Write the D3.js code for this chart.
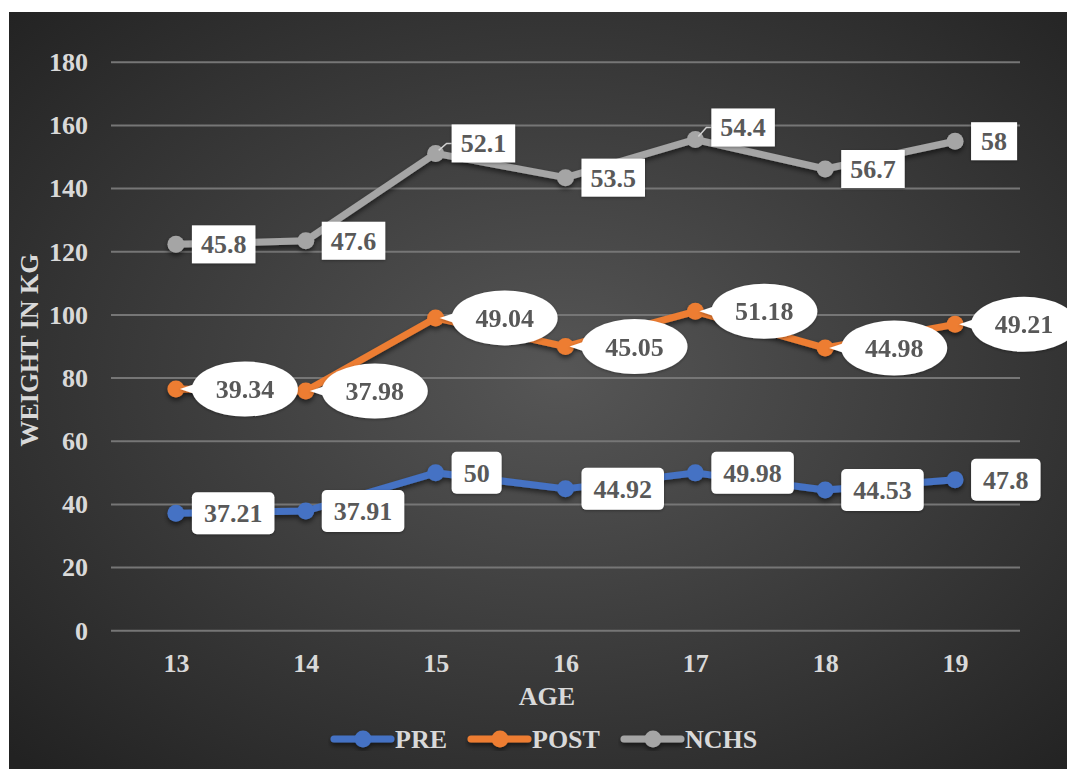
<!DOCTYPE html>
<html>
<head>
<meta charset="utf-8">
<script src="https://cdn.jsdelivr.net/npm/d3@7"></script>
<style>
  html, body { margin: 0; padding: 0; background: #ffffff; }
  svg { display: block; }
</style>
</head>
<body>
<svg id="chart" width="1067" height="769"></svg>
<script>
// Age groups on the x axis
const ages = [13, 14, 15, 16, 17, 18, 19];

// Mean weight (kg) per age group for each series
const preValues  = [37.21, 37.91, 50, 44.92, 49.98, 44.53, 47.8];
const postValues = [39.34, 37.98, 49.04, 45.05, 51.18, 44.98, 49.21];
const nchsValues = [45.8, 47.6, 52.1, 53.5, 54.4, 56.7, 58];

// Axis ticks
const yTickValues = [0, 20, 40, 60, 80, 100, 120, 140, 160, 180];

const seriesNames = ["PRE", "POST", "NCHS"];
const seriesColors = { PRE: "#4472C4", POST: "#ED7D31", NCHS: "#A5A5A5" };
const labelShape = { PRE: "roundrect", POST: "ellipse", NCHS: "rect" };
// labels lifted above the line, joined to their point by a leader line
const labelLift = { NCHS: { 15: 10, 17: 12 } };

const FAMILY = "'Liberation Serif', 'Times New Roman', serif";
const FONT = 26;
const W = 1067, H = 769;

const svg = d3.select("#chart");

// shared text styling
function styleText(sel, color) {
  return sel.style("font-family", FAMILY).style("font-weight", "bold")
    .style("font-size", FONT + "px").attr("fill", color);
}

// ---- background ----
const defs = svg.append("defs");
const bg = defs.append("radialGradient").attr("id", "bgGrad")
  .attr("cx", "52%").attr("cy", "48%").attr("r", "72%");
bg.append("stop").attr("offset", "0%").attr("stop-color", "#565656");
bg.append("stop").attr("offset", "100%").attr("stop-color", "#222222");

const shadow = defs.append("filter").attr("id", "shadow")
  .attr("x", "-10%").attr("y", "-10%").attr("width", "120%").attr("height", "130%");
shadow.append("feDropShadow").attr("dx", 0).attr("dy", 3).attr("stdDeviation", 2.5)
  .attr("flood-color", "#000").attr("flood-opacity", 0.55);

const labelShadow = defs.append("filter").attr("id", "labelShadow")
  .attr("x", "-20%").attr("y", "-20%").attr("width", "140%").attr("height", "150%");
labelShadow.append("feDropShadow").attr("dx", 0).attr("dy", 1).attr("stdDeviation", 1.5)
  .attr("flood-color", "#000").attr("flood-opacity", 0.35);

svg.append("rect").attr("x", 9).attr("y", 12).attr("width", W - 9).attr("height", H - 12)
  .attr("fill", "url(#bgGrad)");

// ---- scales ----
const x = d3.scalePoint().domain(ages).range([111, 1020]).padding(0.5);
const y = d3.scaleLinear().domain([0, 180]).range([630.7, 62.3]);

// ---- gridlines ----
svg.append("g").selectAll("line").data(yTickValues).join("line")
  .attr("x1", 111).attr("x2", 1020)
  .attr("y1", d => y(d)).attr("y2", d => y(d))
  .attr("stroke", "#767676").attr("stroke-width", 2);

// ---- axes ----
const yAxis = svg.append("g").attr("transform", "translate(111,0)")
  .call(d3.axisLeft(y).tickValues(yTickValues).tickSize(0).tickPadding(23));
const xAxis = svg.append("g").attr("transform", `translate(0,${y(0)})`)
  .call(d3.axisBottom(x).tickSize(0).tickPadding(23));
[yAxis, xAxis].forEach(g => {
  g.attr("font-family", null).attr("font-size", null);
  g.select(".domain").remove();
  styleText(g.selectAll("text"), "#d9d9d9");
});

// axis titles
styleText(svg.append("text"), "#d9d9d9")
  .attr("transform", "translate(38,350) rotate(-90)")
  .attr("text-anchor", "middle")
  .text("WEIGHT IN KG");
styleText(svg.append("text"), "#d9d9d9")
  .attr("x", 547).attr("y", 705)
  .attr("text-anchor", "middle")
  .text("AGE");

// ---- stacked lines ----
const table = ages.map((a, i) => ({ age: a, PRE: preValues[i], POST: postValues[i], NCHS: nchsValues[i] }));
const stacked = d3.stack().keys(seriesNames)(table);

const line = d3.line().x(d => x(d.data.age)).y(d => y(d[1]));

const seriesG = svg.append("g").selectAll("g").data(stacked).join("g")
  .attr("filter", "url(#shadow)");
seriesG.append("path")
  .attr("d", s => line(s))
  .attr("fill", "none")
  .attr("stroke", s => seriesColors[s.key])
  .attr("stroke-width", 7)
  .attr("stroke-linejoin", "round");
seriesG.selectAll("circle").data(s => s.map(d => ({ key: s.key, d }))).join("circle")
  .attr("cx", p => x(p.d.data.age)).attr("cy", p => y(p.d[1]))
  .attr("r", 8.5)
  .attr("fill", p => seriesColors[p.key]);

// ---- data labels ----
const fmt = v => String(v);
const labelsG = svg.append("g");
const measure = styleText(svg.append("text"), "#000").attr("visibility", "hidden");

stacked.forEach(s => {
  s.forEach(d => {
    const age = d.data.age;
    const value = d.data[s.key];
    const txt = fmt(value);
    measure.text(txt);
    const tw = measure.node().getComputedTextLength();
    const px = x(age), py = y(d[1]);
    const lift = (labelLift[s.key] && labelLift[s.key][age]) || 0;
    const shape = labelShape[s.key];
    const g = labelsG.append("g");
    let cx, cy = py - lift;

    if (shape === "ellipse") {
      const rx = 53, ry = 27.5;
      cx = px + 16 + rx;
      g.attr("filter", "url(#labelShadow)");
      // callout wedge from the ellipse to its point
      g.append("path")
        .attr("d", `M${px + 4},${py} L${cx - rx + 12},${cy - 8} L${cx - rx + 12},${cy + 8} Z`)
        .attr("fill", "#ffffff");
      g.append("ellipse").attr("cx", cx).attr("cy", cy).attr("rx", rx).attr("ry", ry)
        .attr("fill", "#ffffff");
    } else {
      const pad = shape === "rect" ? 9 : 12;
      const bw = Math.max(tw + pad * 2, 46);
      const bh = shape === "rect" ? 38 : 42;
      const left = px + 16;
      cx = left + bw / 2;
      if (lift) {
        g.append("polyline")
          .attr("points", `${px + 3},${py - 3} ${px + 11},${cy} ${left},${cy}`)
          .attr("fill", "none").attr("stroke", "#d0d0d0").attr("stroke-width", 1.5);
      }
      g.append("rect")
        .attr("x", left).attr("y", cy - bh / 2).attr("width", bw).attr("height", bh)
        .attr("rx", shape === "roundrect" ? 5 : 0)
        .attr("fill", "#ffffff")
        .attr("filter", "url(#labelShadow)");
    }
    styleText(g.append("text"), "#595959")
      .attr("x", cx).attr("y", cy + 9)
      .attr("text-anchor", "middle")
      .text(txt);
  });
});
measure.remove();

// ---- legend ----
const legendItems = [
  { key: "PRE", x0: 334 },
  { key: "POST", x0: 471 },
  { key: "NCHS", x0: 624 }
];
const legend = svg.append("g");
legendItems.forEach(it => {
  const g = legend.append("g").attr("filter", "url(#shadow)");
  g.append("line").attr("x1", it.x0).attr("x2", it.x0 + 57).attr("y1", 739).attr("y2", 739)
    .attr("stroke", seriesColors[it.key]).attr("stroke-width", 7).attr("stroke-linecap", "round");
  g.append("circle").attr("cx", it.x0 + 29).attr("cy", 739).attr("r", 8.5)
    .attr("fill", seriesColors[it.key]);
  styleText(legend.append("text"), "#d9d9d9")
    .attr("x", it.x0 + 61).attr("y", 748)
    .text(it.key);
});
</script>
</body>
</html>
